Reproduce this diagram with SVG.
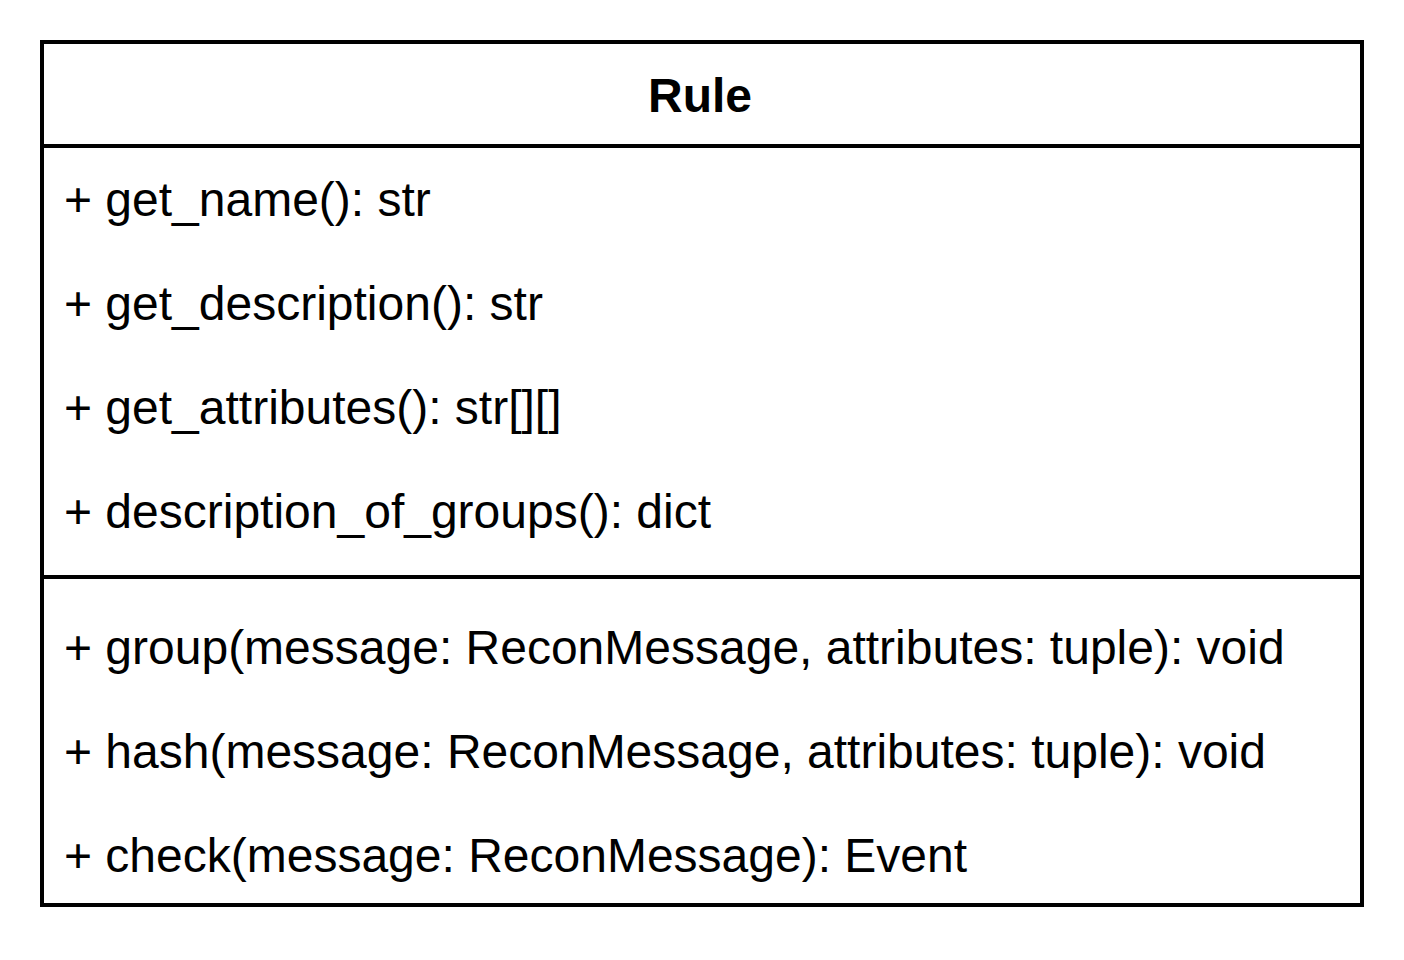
<svg xmlns="http://www.w3.org/2000/svg" width="1404" height="960" viewBox="0 0 1404 960">
  <style>
    .box { fill: #ffffff; stroke: #000000; stroke-width: 4; }
    .sep { stroke: #000000; stroke-width: 4; }
    .title { font-family: "Liberation Sans", Arial, sans-serif; font-size: 48px; font-weight: bold; fill: #000000; }
    .member { font-family: "Liberation Sans", Arial, sans-serif; font-size: 48px; fill: #000000; }
  </style>
  <rect width="1404" height="960" fill="#ffffff"/>
  <g id="class-Rule">
    <rect class="box" x="42" y="42" width="1320" height="863"/>
    <line class="sep" x1="42" y1="146" x2="1362" y2="146"/>
    <line class="sep" x1="42" y1="577" x2="1362" y2="577"/>
    <text class="title" x="700" y="112" text-anchor="middle">Rule</text>
    <g id="attributes">
      <text class="member" x="64" y="216">+ get_name(): str</text>
      <text class="member" x="64" y="320">+ get_description(): str</text>
      <text class="member" x="64" y="424">+ get_attributes(): str[][]</text>
      <text class="member" x="64" y="528">+ description_of_groups(): dict</text>
    </g>
    <g id="operations">
      <text class="member" x="64" y="664">+ group(message: ReconMessage, attributes: tuple): void</text>
      <text class="member" x="64" y="768">+ hash(message: ReconMessage, attributes: tuple): void</text>
      <text class="member" x="64" y="872">+ check(message: ReconMessage): Event</text>
    </g>
  </g>
  <g id="connectors"/>
</svg>
